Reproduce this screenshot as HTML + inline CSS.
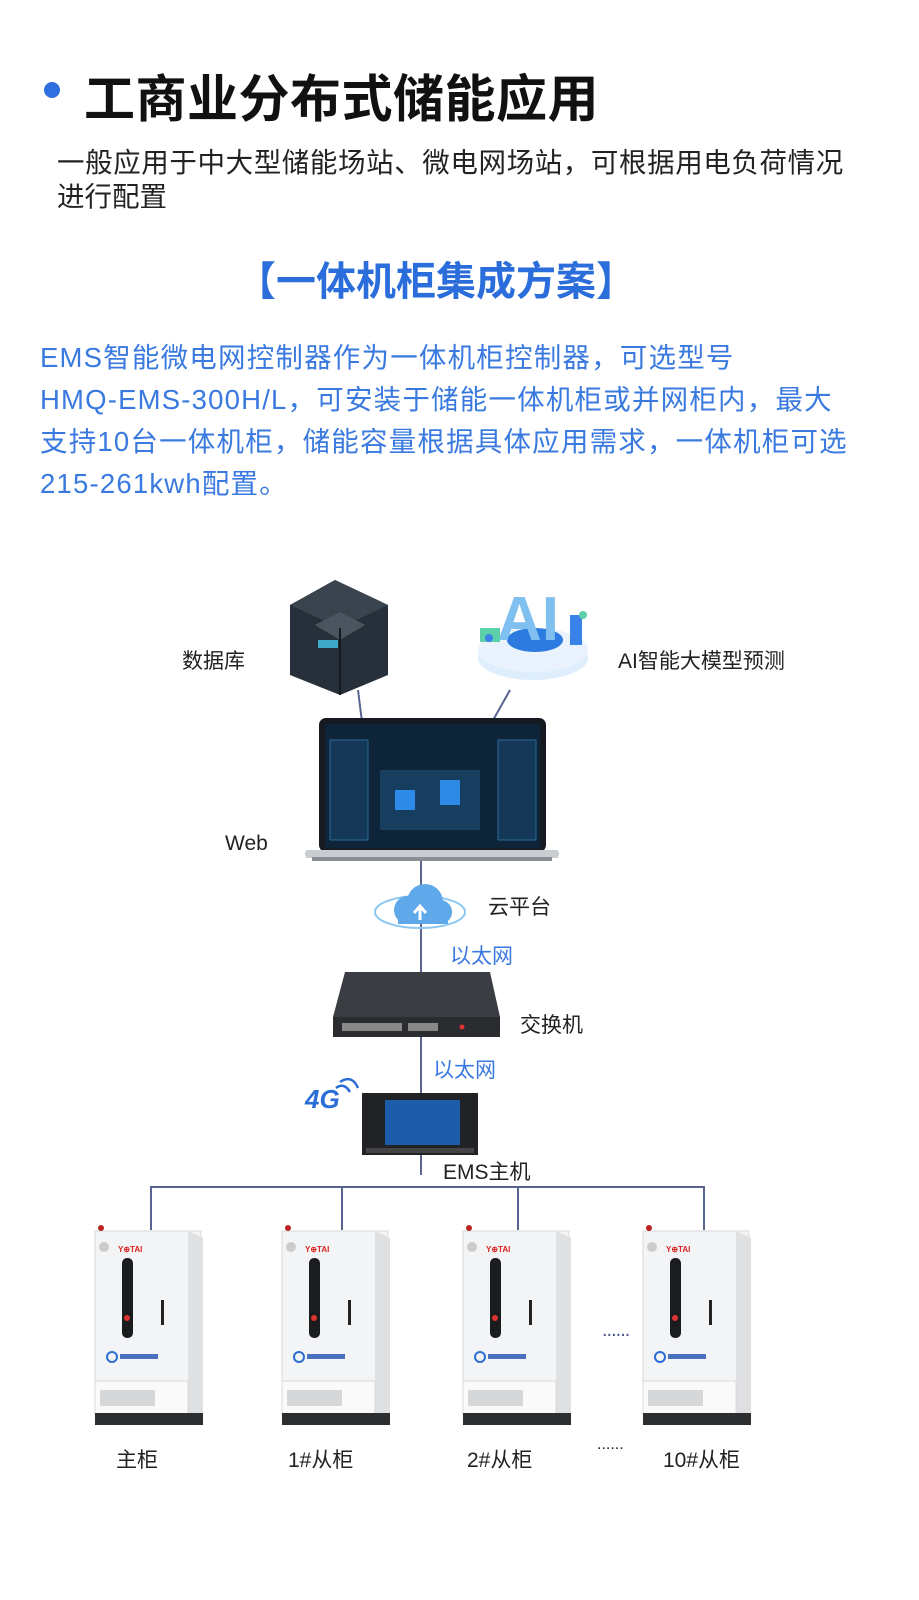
<!DOCTYPE html>
<html><head><meta charset="utf-8"><style>
*{margin:0;padding:0}
body{width:919px;height:1600px;background:#fff;position:relative;overflow:hidden;font-family:"Liberation Sans","Noto Sans CJK SC",sans-serif;color:#1a1a1a}
.a{position:absolute;white-space:nowrap}
.lbl{font-size:21px;color:#222}
.p{font-size:27.5px;color:#3a7ae0;left:40px;letter-spacing:1.2px}
</style></head><body>
<div class="a" style="left:44px;top:82px;width:16px;height:16px;border-radius:50%;background:#2f6fe0"></div>
<div class="a" style="left:84px;top:58px;font-size:51px;font-weight:bold;color:#111;letter-spacing:0.5px">工商业分布式储能应用</div>
<div class="a" style="left:57px;top:140px;font-size:27.5px;color:#222;letter-spacing:0.6px">一般应用于中大型储能场站、微电网场站，可根据用电负荷情况</div>
<div class="a" style="left:57px;top:174px;font-size:27.5px;color:#222">进行配置</div>
<div class="a" style="left:236px;top:249px;font-size:40px;font-weight:bold;color:#2b6ddb">【一体机柜集成方案】</div>
<div class="a p" style="top:335px">EMS智能微电网控制器作为一体机柜控制器，可选型号</div>
<div class="a p" style="top:377px">HMQ-EMS-300H/L，可安装于储能一体机柜或并网柜内，最大</div>
<div class="a p" style="top:419px">支持10台一体机柜，储能容量根据具体应用需求，一体机柜可选</div>
<div class="a p" style="top:461px">215-261kwh配置。</div>

<svg class="a" style="left:0;top:0" width="919" height="1600">
<g stroke="#5a6490" stroke-width="2" fill="none">
<line x1="358" y1="690" x2="362" y2="722"/>
<line x1="510" y1="690" x2="492" y2="722"/>
<line x1="421" y1="860" x2="421" y2="1175"/>
<polyline points="151,1230 151,1187 704,1187 704,1230"/>
<line x1="342" y1="1187" x2="342" y2="1230"/>
<line x1="518" y1="1187" x2="518" y2="1230"/>
</g>
<g>
<polygon points="290,605 335,580 388,605 388,675 340,695 290,675" fill="#27303a"/>
<polygon points="290,605 335,580 388,605 340,628" fill="#3a444e"/>
<polygon points="315,625 340,612 365,625 340,640" fill="#4a555f"/>
<rect x="318" y="640" width="20" height="8" fill="#3fa9c8"/>
<line x1="340" y1="628" x2="340" y2="695" stroke="#151a20" stroke-width="2"/>
</g>
<g>
<ellipse cx="533" cy="658" rx="55" ry="22" fill="#dfeefc"/>
<ellipse cx="533" cy="650" rx="55" ry="22" fill="#eaf3fd"/>
<ellipse cx="535" cy="640" rx="28" ry="12" fill="#2d7be0"/>
<text x="497" y="640" font-family="Liberation Sans" font-weight="bold" font-size="62" fill="#7fc0f0">AI</text>
<rect x="480" y="628" width="20" height="14" fill="#5cd0a8"/>
<rect x="570" y="615" width="12" height="30" fill="#3b82e8"/>
<circle cx="489" cy="638" r="4" fill="#3b82e8"/><circle cx="583" cy="615" r="4" fill="#5cd0a8"/>
</g>
<rect x="319" y="718" width="227" height="134" rx="7" fill="#161b22"/>
<rect x="325" y="724" width="215" height="124" fill="#0e2438"/>
<rect x="330" y="740" width="38" height="100" fill="#153858" stroke="#2b6a94"/>
<rect x="498" y="740" width="38" height="100" fill="#153858" stroke="#2b6a94"/>
<rect x="380" y="770" width="100" height="60" fill="#1b4a70" opacity=".7"/>
<rect x="395" y="790" width="20" height="20" fill="#2d8ae6"/><rect x="440" y="780" width="20" height="25" fill="#2d8ae6"/>
<rect x="305" y="850" width="254" height="8" rx="3" fill="#c9ccd1"/>
<rect x="312" y="857" width="240" height="4" fill="#8b8f95"/>
<ellipse cx="420" cy="912" rx="45" ry="16" fill="none" stroke="#8cc8f0" stroke-width="2"/>
<circle cx="408" cy="910" r="14" fill="#5fa8ea"/><circle cx="425" cy="902" r="18" fill="#5fa8ea"/><circle cx="440" cy="912" r="12" fill="#5fa8ea"/>
<rect x="398" y="910" width="50" height="14" fill="#5fa8ea"/>
<path d="M420 920 v-12 m-6 5 l6 -7 l6 7" stroke="#fff" stroke-width="3" fill="none"/>
<polygon points="345,972 490,972 500,1017 333,1017" fill="#3a3d42"/>
<rect x="333" y="1017" width="167" height="20" fill="#2a2c30"/>
<g fill="#888">
<rect x="342" y="1023" width="60" height="8"/><rect x="408" y="1023" width="30" height="8"/>
</g>
<circle cx="462" cy="1027" r="2.5" fill="#d33"/>
<text x="305" y="1108" font-family="Liberation Sans" font-style="italic" font-weight="bold" font-size="26" fill="#2a6dd6">4G</text>
<path d="M336 1088 q8 -6 14 4 M340 1082 q12 -8 18 6" stroke="#2a6dd6" stroke-width="2.5" fill="none"/>
<rect x="362" y="1093" width="116" height="62" fill="#202226"/>
<rect x="385" y="1100" width="75" height="45" fill="#1d5ca8"/>
<rect x="366" y="1148" width="108" height="5" fill="#444"/>
<g id="cab">
<rect x="95" y="1231" width="106" height="150" fill="#f3f4f5" stroke="#d8d9db"/>
<polygon points="188,1231 203,1238 203,1425 188,1420" fill="#dfe0e2"/>
<rect x="95" y="1381" width="93" height="33" fill="#fafafa" stroke="#d8d9db"/>
<rect x="100" y="1390" width="55" height="16" fill="#d6d7d9"/>
<rect x="95" y="1413" width="108" height="12" fill="#2d2e30"/>
<rect x="122" y="1258" width="11" height="80" rx="5" fill="#1b1c1e"/>
<circle cx="127" cy="1318" r="3" fill="#d33"/>
<circle cx="104" cy="1247" r="5" fill="#ccc"/>
<text x="118" y="1252" font-family="Liberation Sans" font-weight="bold" font-size="8" fill="#d22">Y⊕TAI</text>
<circle cx="112" cy="1357" r="5" fill="none" stroke="#2a6dd6" stroke-width="2"/>
<rect x="120" y="1354" width="38" height="5" fill="#4a70c0"/>
<rect x="161" y="1300" width="3" height="25" fill="#222"/>
<circle cx="101" cy="1228" r="3" fill="#b22"/>
</g>
<use href="#cab" x="187"/><use href="#cab" x="368"/><use href="#cab" x="548"/>
<text x="602" y="1336" font-family="Liberation Sans" font-size="20" fill="#4a5a90" letter-spacing="-1">......</text>
</svg>

<div class="a lbl" style="left:182px;top:645px">数据库</div>
<div class="a lbl" style="left:618px;top:645px">AI智能大模型预测</div>
<div class="a lbl" style="left:225px;top:832px">Web</div>
<div class="a lbl" style="left:488px;top:891px">云平台</div>
<div class="a lbl" style="left:450px;top:940px;color:#3a7ae0">以太网</div>
<div class="a lbl" style="left:520px;top:1009px">交换机</div>
<div class="a lbl" style="left:433px;top:1054px;color:#3a7ae0">以太网</div>
<div class="a lbl" style="left:443px;top:1156px">EMS主机</div>
<div class="a lbl" style="left:116px;top:1444px">主柜</div>
<div class="a lbl" style="left:288px;top:1444px">1#从柜</div>
<div class="a lbl" style="left:467px;top:1444px">2#从柜</div>
<div class="a lbl" style="left:597px;top:1436px;font-size:16px">......</div>
<div class="a lbl" style="left:663px;top:1444px">10#从柜</div>
</body></html>
